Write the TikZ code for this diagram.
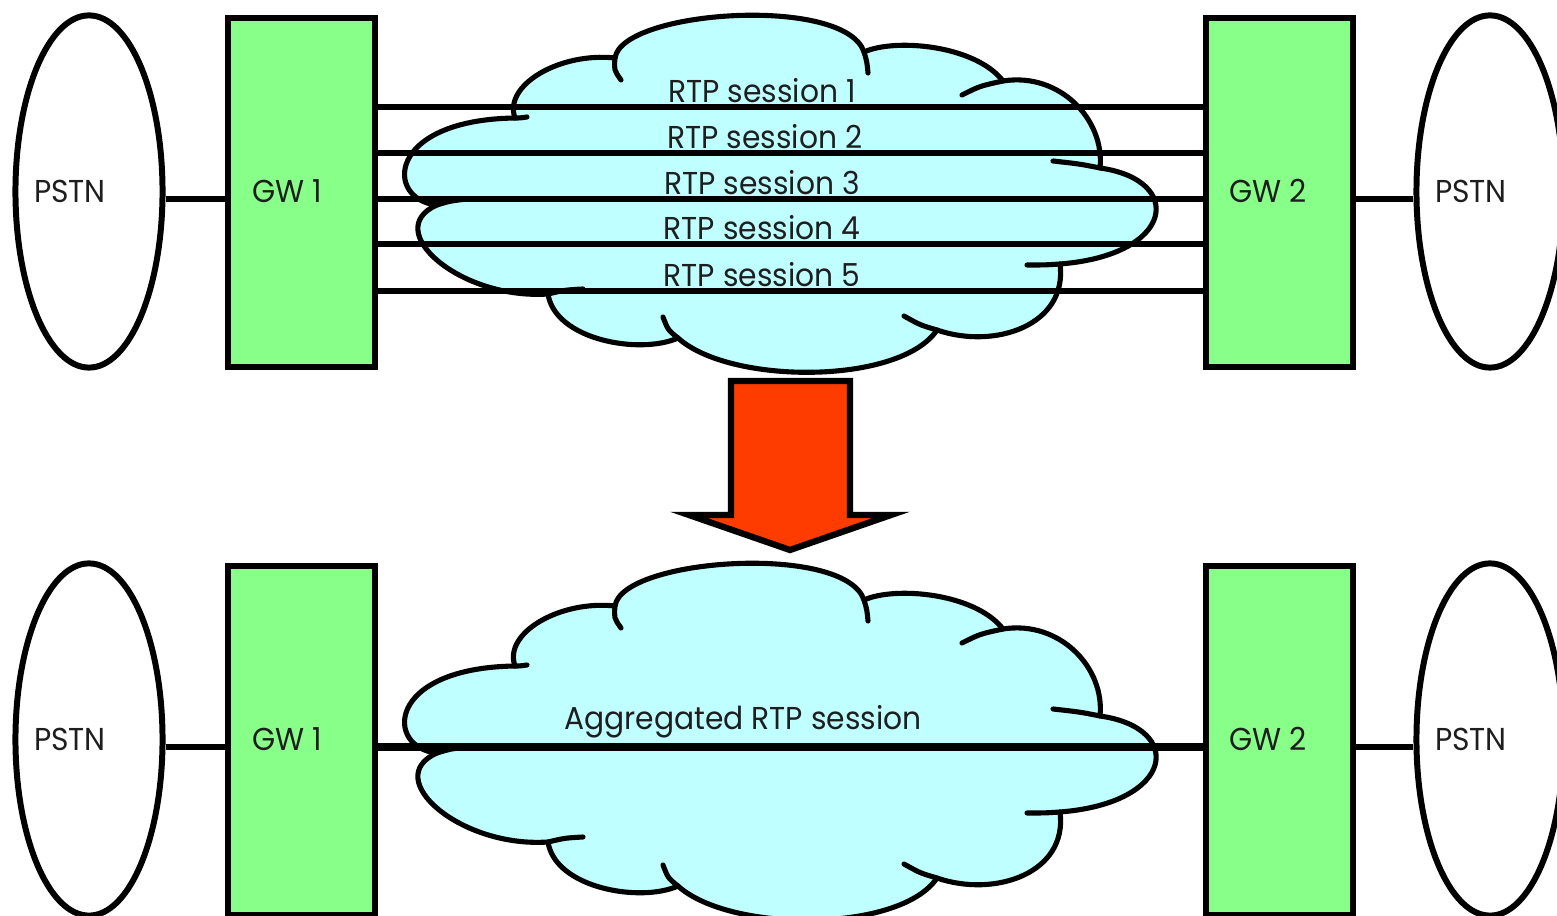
\documentclass[tikz,border=0pt]{standalone}
\usepackage{fontspec}
\setmainfont{Poppins}[FakeStretch=0.94]
\usetikzlibrary{shapes.geometric}

\definecolor{gwgreen}{HTML}{88FF88}
\definecolor{cloudcyan}{HTML}{C0FFFF}
\definecolor{arrowred}{HTML}{FF3C00}
\definecolor{ink}{HTML}{1E1E1E}

% Cloud: ten lobes, each one cubic arc between two junctions; the filled
% body uses the junctions only, the outline adds the short inward stubs.
\newcommand\netcloud{%
  \fill[cloudcyan]
    (437,205) .. controls (385,200) and (385,120) .. (515,118)
              .. controls (503,85) and (560,52) .. (615,58)
              .. controls (622,10) and (845,-5) .. (864,52)
              .. controls (895,38) and (975,45) .. (1003,81)
              .. controls (1060,72) and (1105,120) .. (1100,168)
              .. controls (1185,180) and (1175,255) .. (1060,264)
              .. controls (1068,325) and (995,350) .. (937,330)
              .. controls (900,385) and (730,385) .. (678,338)
              .. controls (640,355) and (555,340) .. (548,294)
              .. controls (460,300) and (380,230) .. (437,205) -- cycle;
  \draw[cloudline] (437,205) .. controls (385,200) and (385,120) .. (515,118)
                   .. controls (520,118) .. (527,117);
  \draw[cloudline] (515,118) .. controls (503,85) and (560,52) .. (615,58);
  \draw[cloudline] (621,80) .. controls (614,70) .. (615,58)
                   .. controls (622,10) and (845,-5) .. (864,52)
                   .. controls (867,62) .. (868,73);
  \draw[cloudline] (864,52) .. controls (895,38) and (975,45) .. (1003,81);
  \draw[cloudline] (962,95) .. controls (980,86) .. (1003,81)
                   .. controls (1060,72) and (1105,120) .. (1100,168);
  \draw[cloudline] (1053,161) .. controls (1080,164) .. (1100,168)
                   .. controls (1185,180) and (1175,255) .. (1060,264)
                   .. controls (1045,265) .. (1027,265);
  \draw[cloudline] (1060,264) .. controls (1068,325) and (995,350) .. (937,330)
                   .. controls (920,325) .. (904,316);
  \draw[cloudline] (937,330) .. controls (900,385) and (730,385) .. (678,338)
                   .. controls (668,330) .. (663,317);
  \draw[cloudline] (678,338) .. controls (640,355) and (555,340) .. (548,294);
  \draw[cloudline] (583,289) .. controls (565,290) .. (548,294)
                   .. controls (460,300) and (380,230) .. (437,205)
                   .. controls (450,201) .. (467,199);
}

\begin{document}
\begin{tikzpicture}[
  x=0.01cm, y=-0.01cm,
  every node/.style={text=ink, font=\fontsize{9}{11}\selectfont},
  cloudline/.style={line width=1.45pt, line join=round, line cap=round},
  pstn/.style={ellipse, draw, fill=white, line width=1.7pt, inner sep=0pt,
    minimum width=1.47cm, minimum height=3.52cm},
  gw/.style={rectangle, draw, fill=gwgreen, line width=1.9pt, inner sep=0pt,
    minimum width=1.47cm, minimum height=3.49cm},
  link/.style={line width=1.9pt},
  session/.style={line width=1.45pt},
  label/.style={anchor=base, inner sep=0pt},
]
\useasboundingbox[fill=white] (0,0) rectangle (1557,916);

% ---------- upper network: five separate RTP sessions ----------
\netcloud

\node[pstn] (p1) at (89,191.5) {};
\node[gw]   (g1) at (301.5,192.5) {};
\node[gw]   (g2) at (1279.5,192.5) {};
\node[pstn] (p2) at (1490,191.5) {};

\node[label] (p1t) at (70,203) {PSTN};
\node[label] (g1t) at (287,203) {GW 1};
\node[label] (g2t) at (1268,203) {GW 2};
\node[label] (p2t) at (1471,203) {PSTN};

\coordinate (ya) at (0,199);
\draw[link] (p1.east |- ya) -- (g1.west |- ya);
\draw[link] (g2.east |- ya) -- (p2.west |- ya);

\coordinate (s1) at (0,107);
\coordinate (s2) at (0,153);
\coordinate (s3) at (0,199);
\coordinate (s4) at (0,244);
\coordinate (s5) at (0,291);
\draw[session] (g1.east |- s1) -- (g2.west |- s1);
\draw[session, line width=1.75pt] (g1.east |- s2) -- (g2.west |- s2);
\draw[session, line width=1.85pt] (g1.east |- s3) -- (g2.west |- s3);
\draw[session] (g1.east |- s4) -- (g2.west |- s4);
\draw[session] (g1.east |- s5) -- (g2.west |- s5);

\node[label] (r1) at (762,103) {RTP session 1};
\node[label] (r2) at (765,149) {RTP session 2};
\node[label] (r3) at (762,195) {RTP session 3};
\node[label] (r4) at (762,240) {RTP session 4};
\node[label] (r5) at (762,287) {RTP session 5};

% ---------- block arrow ----------
\draw[fill=arrowred, line width=1.8pt, line join=miter]
  (731,381) -- (850,381) -- (850,515) -- (891,515) -- (790,550)
  -- (689,515) -- (731,515) -- cycle;

% ---------- lower network: one aggregated RTP session ----------
\begin{scope}[shift={(0,548)}]
  \netcloud
\end{scope}

\node[pstn] (p3) at (89,739.5) {};
\node[gw]   (g3) at (301.5,740.5) {};
\node[gw]   (g4) at (1279.5,740.5) {};
\node[pstn] (p4) at (1490,739.5) {};

\node[label] (p3t) at (70,751) {PSTN};
\node[label] (g3t) at (287,751) {GW 1};
\node[label] (g4t) at (1268,751) {GW 2};
\node[label] (p4t) at (1471,751) {PSTN};

\coordinate (yb) at (0,747);
\draw[link] (p3.east |- yb) -- (g3.west |- yb);
\draw[link] (g4.east |- yb) -- (p4.west |- yb);
\draw[line width=2.4pt] (g3.east |- yb) -- (g4.west |- yb);

\node[label] (agg) at (743,730) {Aggregated RTP session};
\end{tikzpicture}
\end{document}
